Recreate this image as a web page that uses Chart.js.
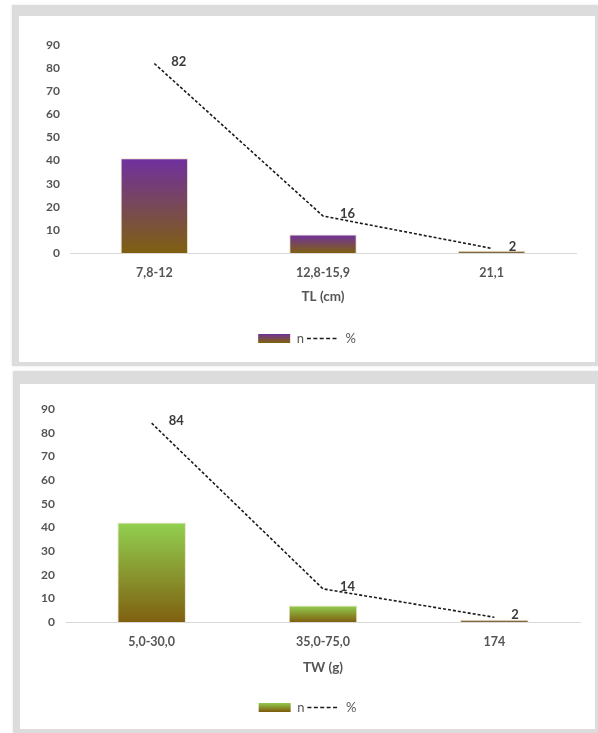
<!DOCTYPE html>
<html>
<head>
<meta charset="utf-8">
<script src="https://cdn.jsdelivr.net/npm/chart.js@4/dist/chart.umd.min.js"></script>
<style>
  html, body { margin:0; padding:0; background:#fff; width:598px; height:733px; overflow:hidden; }
  .panel { position:absolute; background:#fff; border-style:solid; border-color:#dcdcdc; box-shadow:0 0 3px #e6e6e6; }
  #p1 { left:12px; top:5px; width:576px; height:346px; border-width:11px 3px 4px 7px; }
  #p2 { left:13px; top:371px; width:575px; height:345px; border-width:13px 3px 4px 7px; }
  canvas { display:block; }
</style>
</head>
<body>
<div class="panel" id="p1"><canvas id="c1" width="576" height="346"></canvas></div>
<div class="panel" id="p2"><canvas id="c2" width="575" height="345"></canvas></div>
<script>
// ---- data ----
const tlCategories = ['7,8-12', '12,8-15,9', '21,1'];
const tlCounts = [41, 8, 1];
const tlPercent = [82, 16, 2];
const tlTitle = 'TL (cm)';

const twCategories = ['5,0-30,0', '35,0-75,0', '174'];
const twCounts = [42, 7, 1];
const twPercent = [84, 14, 2];
const twTitle = 'TW (g)';

const yTicks = [0, 10, 20, 30, 40, 50, 60, 70, 80, 90];
const seriesNames = ['n', '%'];

// ---- styling ----
const FONT = 'Lato, "Open Sans", sans-serif';
const GRAY = '#555555';
const BROWN = 'rgb(127,96,16)';
const THIN = 'rgb(130,105,60)';
const PURPLE = 'rgb(112,48,160)';
const GREEN = 'rgb(146,208,80)';

function barGradient(topColor) {
  return (ctx) => {
    const chart = ctx.chart;
    if (!chart.chartArea || ctx.type !== 'data') return BROWN;
    const ys = chart.scales.y;
    const y0 = ys.getPixelForValue(0);
    const y1 = ys.getPixelForValue(ctx.raw);
    if (Math.abs(y0 - y1) < 4) return THIN;
    const g = chart.ctx.createLinearGradient(0, y1, 0, y0);
    g.addColorStop(0, topColor);
    g.addColorStop(1, BROWN);
    return g;
  };
}

const legendGradientPlugin = {
  id: 'legendGradient',
  beforeDraw(chart, args, opts) {
    const lg = chart.legend;
    if (!lg || !lg.legendItems || !lg.legendHitBoxes || !lg.legendHitBoxes[0]) return;
    const hb = lg.legendHitBoxes[0];
    const top = hb.top + 1.5, bot = hb.top + 10.5;
    const g = chart.ctx.createLinearGradient(0, top, 0, bot);
    g.addColorStop(0, opts.topColor);
    g.addColorStop(1, BROWN);
    lg.legendItems[0].fillStyle = g;
  }
};

const pointLabelsPlugin = {
  id: 'pointLabels',
  afterDatasetsDraw(chart) {
    const meta = chart.getDatasetMeta(1);
    const data = chart.data.datasets[1].data;
    const c = chart.ctx;
    c.save();
    c.font = 'bold 13px ' + FONT;
    c.fillStyle = '#3a3a3a';
    c.textAlign = 'left';
    c.textBaseline = 'middle';
    meta.data.forEach((pt, i) => {
      c.fillText(String(data[i]), pt.x + 17, pt.y - 2);
    });
    c.restore();
  }
};

function makeChart(canvasId, cfg) {
  const ctx = document.getElementById(canvasId);
  return new Chart(ctx, {
    type: 'bar',
    data: {
      labels: cfg.categories,
      datasets: [
        {
          type: 'bar',
          label: seriesNames[0],
          data: cfg.counts,
          backgroundColor: barGradient(cfg.topColor),
          borderColor: 'rgba(235,222,195,0.9)',
          borderWidth: 1,
          categoryPercentage: 0.8,
          barPercentage: 0.5
        },
        {
          type: 'line',
          label: seriesNames[1],
          data: cfg.percent,
          borderColor: '#1a1a1a',
          borderWidth: 1.6,
          borderDash: [3, 2],
          pointRadius: 0,
          tension: 0,
          fill: false
        }
      ]
    },
    options: {
      responsive: false,
      animation: false,
      events: [],
      layout: { padding: cfg.padding },
      plugins: {
        tooltip: { enabled: false },
        legendGradient: { topColor: cfg.topColor },
        legend: {
          position: 'bottom',
          labels: {
            usePointStyle: true,
            pointStyleWidth: 32,
            boxHeight: 9,
            padding: 3,
            color: GRAY,
            font: { family: FONT, size: 13 },
            generateLabels: () => [
              { text: seriesNames[0], fillStyle: BROWN, strokeStyle: 'rgba(0,0,0,0)', lineWidth: 0,
                pointStyle: 'rect', hidden: false, datasetIndex: 0, fontColor: GRAY },
              { text: seriesNames[1], fillStyle: 'rgba(0,0,0,0)', strokeStyle: '#1a1a1a', lineWidth: 1.6,
                lineDash: [4, 2.4], pointStyle: 'line', hidden: false, datasetIndex: 1, fontColor: GRAY }
            ]
          }
        }
      },
      scales: {
        x: {
          grid: { display: false, drawTicks: false },
          border: { display: true, color: '#d9d9d9', width: 1 },
          ticks: { color: GRAY, padding: 12, font: { family: FONT, size: 12.5, weight: 'bold' } },
          title: { display: true, text: cfg.title, color: GRAY,
                   font: { family: FONT, size: 13.5, weight: 'bold' }, padding: { top: 0, bottom: cfg.titlePad } },
          afterFit: (s) => { s.height = cfg.xHeight; }
        },
        y: {
          min: 0, max: 90,
          grid: { display: false, drawTicks: false },
          border: { display: false },
          afterBuildTicks: (s) => { s.ticks = yTicks.map(v => ({ value: v })); },
          ticks: { color: GRAY, padding: cfg.yPad, font: { family: FONT, size: 12, weight: 'bold' } },
          afterFit: (s) => { s.width = cfg.yWidth; }
        }
      }
    },
    plugins: [legendGradientPlugin, pointLabelsPlugin]
  });
}

makeChart('c1', {
  categories: tlCategories, counts: tlCounts, percent: tlPercent, title: tlTitle,
  topColor: PURPLE,
  padding: { top: 29, left: 19, right: 19, bottom: 7 },
  yWidth: 32, yPad: 10, xHeight: 76, titlePad: 24
});
makeChart('c2', {
  categories: twCategories, counts: twCounts, percent: twPercent, title: twTitle,
  topColor: GREEN,
  padding: { top: 25, left: 15, right: 15, bottom: 5 },
  yWidth: 31, yPad: 11, xHeight: 76, titlePad: 22
});
</script>
</body>
</html>
